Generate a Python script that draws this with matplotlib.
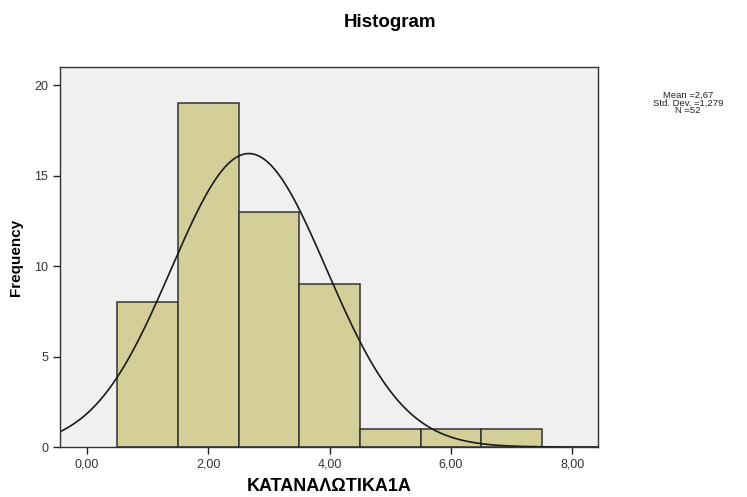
import matplotlib.pyplot as plt
import numpy as np

plt.rcParams['font.family'] = ['Liberation Sans', 'DejaVu Sans']

# histogram bins (width 1) and frequencies
bin_edges = [0.5, 1.5, 2.5, 3.5, 4.5, 5.5, 6.5, 7.5]
counts = [8, 19, 13, 9, 1, 1, 1]

mean = 2.67
std = 1.279
n = 52

x_ticks = [0, 2, 4, 6, 8]
y_ticks = [0, 5, 10, 15, 20]

fig = plt.figure(figsize=(7.47, 4.97), dpi=100)
ax = fig.add_axes([0.0803, 0.1006, 0.7202, 0.7645])
ax.set_facecolor('#f0f0f0')

centers = [(a + b) / 2 for a, b in zip(bin_edges[:-1], bin_edges[1:])]
ax.hist(centers, bins=bin_edges, weights=counts, color='#d4cf98',
        edgecolor='#333333', linewidth=1.1)

# normal curve scaled to the counts
width = bin_edges[1] - bin_edges[0]
xs = np.linspace(-0.45, 8.45, 400)
ys = n * width / (std * np.sqrt(2 * np.pi)) * np.exp(-0.5 * ((xs - mean) / std) ** 2)
ax.plot(xs, ys, color='#1a1a1a', linewidth=1.2)

ax.set_xlim(-0.44, 8.42)
ax.set_ylim(0, 21.0)
ax.set_xticks(x_ticks)
ax.set_xticklabels([f"{v:.2f}".replace('.', ',') for v in x_ticks])
ax.set_yticks(y_ticks)
ax.tick_params(direction='out', length=5, width=1, colors='#222222',
               labelsize=9, labelcolor='#333333')
for s in ax.spines.values():
    s.set_color('#333333')
    s.set_linewidth(1)

ax.set_xlabel('ΚΑΤΑΝΑΛΩΤΙΚΑ1Α', fontsize=13, fontweight='bold', labelpad=5)
ax.set_ylabel('Frequency', fontsize=11, fontweight='bold', labelpad=8)

fig.text(0.522, 0.955, 'Histogram', ha='center', va='center',
         fontsize=13.5, fontweight='bold')
stats = f"Mean ={mean:.2f}\nStd. Dev. ={std:.3f}\nN ={n}".replace('.', ',').replace('Std, Dev,', 'Std. Dev.')
fig.text(0.921, 0.793, stats, ha='center', va='center',
         fontsize=6.8, linespacing=0.85, color='#222222')

fig.savefig('out.png', dpi=100)
